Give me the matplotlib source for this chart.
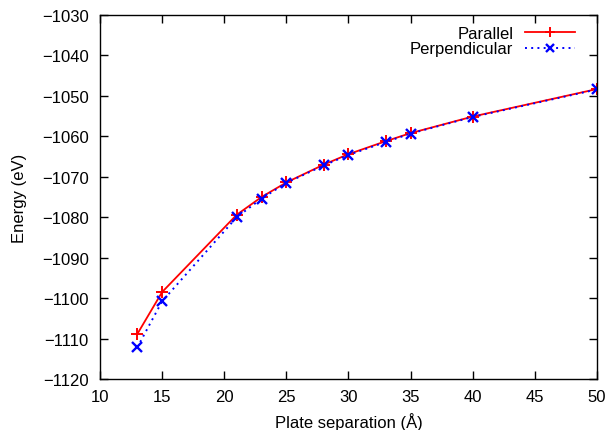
import matplotlib

matplotlib.use("Agg")
import matplotlib.pyplot as plt

plt.rcParams["font.family"] = ["Liberation Sans", "DejaVu Sans"]
plt.rcParams["font.size"] = 12

# --- datos ---
separation = [13, 15, 21, 23, 25, 28, 30, 33, 35, 40, 50]
e_parallel = [-1108.9, -1098.5, -1079.4, -1075.0, -1071.4, -1067.0,
              -1064.4, -1061.2, -1059.2, -1055.1, -1048.3]
e_perpendicular = [-1112.2, -1100.8, -1080.0, -1075.4, -1071.5, -1067.2,
                   -1064.6, -1061.4, -1059.3, -1055.2, -1048.4]

x_ticks = list(range(10, 51, 5))
y_ticks = list(range(-1120, -1029, 10))

fig = plt.figure(figsize=(6.07, 4.31), dpi=100)
ax = fig.add_axes([0.1647, 0.1183, 0.8188, 0.8445])

ax.plot(separation, e_parallel, color="red", lw=1.3, marker="+", ms=8, mew=1.4,
        label="Parallel")
ax.plot(separation, e_perpendicular, color="blue", lw=1.4, ls=(0, (1, 2.2)),
        marker="x", ms=6.5, mew=1.7, label="Perpendicular")

ax.set_xlim(10, 50)
ax.set_ylim(-1120, -1030)
ax.set_xticks(x_ticks)
ax.set_yticks(y_ticks)
ax.tick_params(direction="in", top=True, right=True, length=6, width=1)
ax.tick_params(axis="y", pad=8)
ax.tick_params(axis="x", pad=7)
for s in ax.spines.values():
    s.set_linewidth(1)
ax.set_xlabel("Plate separation (Å)", labelpad=6)
ax.set_ylabel("Energy (eV)", labelpad=11)

leg = ax.legend(loc="upper right", bbox_to_anchor=(0.956, 0.971),
                markerfirst=False, frameon=False, borderpad=0, borderaxespad=0,
                handlelength=3.0, handletextpad=0.7, labelspacing=0.05,
                markerscale=0.85)

fig.savefig("out.png", dpi=100)
